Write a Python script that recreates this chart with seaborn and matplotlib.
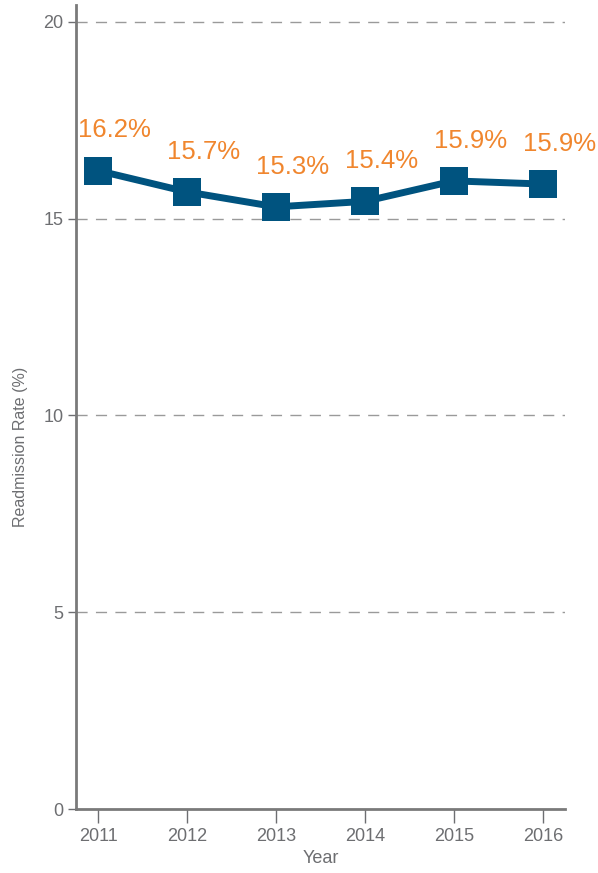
import matplotlib
matplotlib.use("Agg")
from matplotlib import pyplot as plt
import seaborn as sns
import pandas as pd

years = [2011, 2012, 2013, 2014, 2015, 2016]
rates = [16.22, 15.68, 15.30, 15.44, 15.96, 15.88]
rate_labels = ["16.2%", "15.7%", "15.3%", "15.4%", "15.9%", "15.9%"]
y_ticks = [0, 5, 10, 15, 20]

df = pd.DataFrame({"Year": years, "Rate": rates})

sns.set_style("white")
plt.rcParams['font.family'] = ['Liberation Sans', 'DejaVu Sans']

fig = plt.figure(figsize=(5.98, 8.73), dpi=100)
ax = fig.add_axes([0.127, 0.0733, 0.818, 0.921])

grey = "#6d6e71"
line_col = "#00537f"
orange = "#f0862e"

for t in y_ticks[1:]:
    ax.axhline(t, color="#9a9a9a", lw=1, ls=(0, (8, 6)), zorder=0)

sns.lineplot(data=df, x="Year", y="Rate", ax=ax, color=line_col, lw=5,
             marker="s", markersize=20, markeredgewidth=0, zorder=3)

for x, y, lab in zip(years, rates, rate_labels):
    ax.annotate(lab, (x, y), xytext=(12, 29), textcoords="offset points",
                ha="center", va="center", color=orange, fontsize=18.5)

ax.set_xlim(2010.75, 2016.25)
ax.set_ylim(0, 20.43)
ax.set_xticks(years)
ax.set_yticks(y_ticks)
ax.set_xticklabels([str(y) for y in years])
ax.set_xlabel("Year", color=grey, fontsize=13)
ax.set_ylabel("Readmission Rate (%)", color=grey, fontsize=11.5)
ax.xaxis.set_label_coords(0.5, -0.051)
ax.yaxis.set_label_coords(-0.097, 0.45)

for s in ["top", "right"]:
    ax.spines[s].set_visible(False)
for s in ["left", "bottom"]:
    ax.spines[s].set_color("#7a7a7a")
    ax.spines[s].set_linewidth(2)

ax.tick_params(axis="x", colors=grey, labelsize=13, length=10, width=1, pad=4,
               direction="out", bottom=True)
ax.tick_params(axis="y", colors=grey, labelsize=13, length=6, width=1, pad=3,
               direction="out", left=True)
for lab in ax.get_xticklabels() + ax.get_yticklabels():
    lab.set_color(grey)

plt.savefig("out.png", dpi=100)
